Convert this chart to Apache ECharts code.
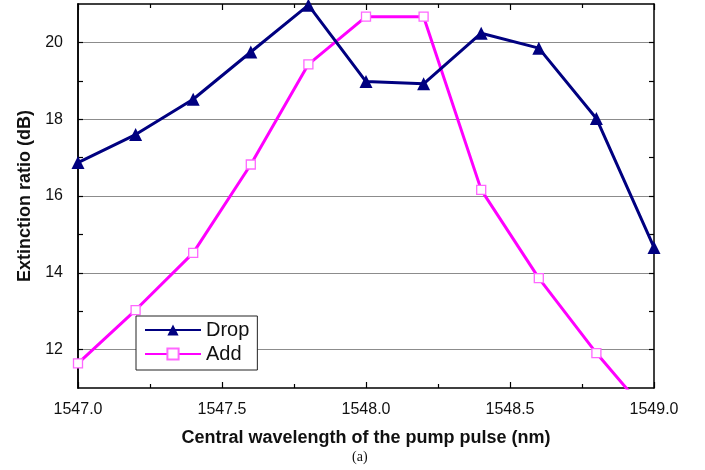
<!DOCTYPE html>
<html>
<head>
<meta charset="utf-8">
<script src="https://cdn.jsdelivr.net/npm/echarts@6/dist/echarts.min.js"></script>
<style>
  html, body { margin: 0; padding: 0; background: #fff; }
  #chart { width: 705px; height: 470px; }
</style>
</head>
<body>
<div id="chart"></div>
<script>
// wavelength of pump pulse (nm)
const wavelengths = [1547.0, 1547.2, 1547.4, 1547.6, 1547.8, 1548.0, 1548.2, 1548.4, 1548.6, 1548.8, 1549.0];
// extinction ratio (dB)
const dropValues = [16.87, 17.6, 18.52, 19.75, 20.97, 18.98, 18.92, 20.24, 19.85, 18.02, 14.66];
const addValues = [11.64, 13.03, 14.52, 16.82, 19.43, 20.67, 20.67, 16.16, 13.86, 11.91, 10.15];

const xTickLabels = [1547.0, 1547.5, 1548.0, 1548.5, 1549.0];
const yTickLabels = [12, 14, 16, 18, 20];
const yMinorTicks = [12, 13, 14, 15, 16, 17, 18, 19, 20];

const FONT = '"Liberation Sans", Arial, Helvetica, sans-serif';

const chart = echarts.init(document.getElementById('chart'));

const pairs = (vals) => wavelengths.map((w, i) => [w, vals[i]]);

const xBase = {
  type: 'value',
  min: xTickLabels[0],
  max: xTickLabels[xTickLabels.length - 1],
  interval: 0.5,
  axisLine: { show: true, onZero: false, lineStyle: { color: '#000', width: 1.5 } },
  axisTick: { show: true, inside: true, length: 6, lineStyle: { color: '#000', width: 1.2 } },
  minorTick: { show: true, splitNumber: 2, length: 4, lineStyle: { color: '#000', width: 1.2 } },
  splitLine: { show: false }
};

const yBase = {
  type: 'value',
  min: 11,
  max: 21,
  splitNumber: 5,
  axisLine: { show: true, onZero: false, lineStyle: { color: '#000', width: 1.5 } }
};

// axis that only carries the inward ticks at every dB
const yTickAxis = (pos) => Object.assign({}, yBase, {
  position: pos,
  axisTick: { show: true, inside: true, length: 5, customValues: yMinorTicks, lineStyle: { color: '#000', width: 1.2 } },
  axisLabel: { show: false },
  splitLine: { show: false }
});

const option = {
  backgroundColor: '#fff',
  animation: false,
  grid: { left: 78, right: 51, top: 4, bottom: 82 },
  legend: {
    orient: 'vertical',
    left: 136,
    top: 316,
    padding: [4, 8, 6, 8],
    itemGap: 4,
    itemWidth: 56,
    itemHeight: 14,
    borderColor: '#222',
    borderWidth: 1,
    backgroundColor: '#fff',
    textStyle: { fontFamily: FONT, fontSize: 20, lineHeight: 20, color: '#111' },
    data: ['Drop', 'Add']
  },
  xAxis: [
    Object.assign({}, xBase, {
      position: 'bottom',
      axisLabel: {
        fontFamily: FONT, fontSize: 16, color: '#111', margin: 14,
        formatter: (v) => v.toFixed(1)
      },
      name: 'Central wavelength of the pump pulse (nm)',
      nameLocation: 'middle',
      nameGap: 41,
      nameTextStyle: { fontFamily: FONT, fontSize: 18, fontWeight: 'bold', color: '#111' }
    }),
    Object.assign({}, xBase, {
      position: 'top',
      axisLabel: { show: false }
    })
  ],
  yAxis: [
    Object.assign({}, yBase, {
      position: 'left',
      axisTick: { show: false },
      axisLabel: { customValues: yTickLabels, fontFamily: FONT, fontSize: 16, color: '#111', margin: 15 },
      splitLine: { show: true, showMinLine: false, showMaxLine: false, lineStyle: { color: '#8c8c8c', width: 1 } },
      name: 'Extinction ratio (dB)',
      nameLocation: 'middle',
      nameGap: 42,
      nameTextStyle: { fontFamily: FONT, fontSize: 18, fontWeight: 'bold', color: '#111' }
    }),
    yTickAxis('left'),
    yTickAxis('right')
  ],
  series: [
    {
      name: 'Drop',
      type: 'line',
      data: pairs(dropValues),
      symbol: 'triangle',
      symbolSize: 13,
      lineStyle: { color: '#000080', width: 3 },
      itemStyle: { color: '#000080' },
      clip: true,
      z: 3
    },
    {
      name: 'Add',
      type: 'line',
      data: pairs(addValues),
      symbol: 'rect',
      symbolSize: 9,
      lineStyle: { color: '#ff00ff', width: 3 },
      itemStyle: { color: '#fff', borderColor: '#ff66ff', borderWidth: 1.3 },
      clip: true,
      z: 2
    }
  ],
  graphic: [
    {
      type: 'text',
      left: 352,
      top: 450,
      style: { text: '(a)', fontFamily: '"Liberation Serif", "Times New Roman", serif', fontSize: 14, fill: '#111' }
    }
  ]
};

chart.setOption(option);
</script>
</body>
</html>
